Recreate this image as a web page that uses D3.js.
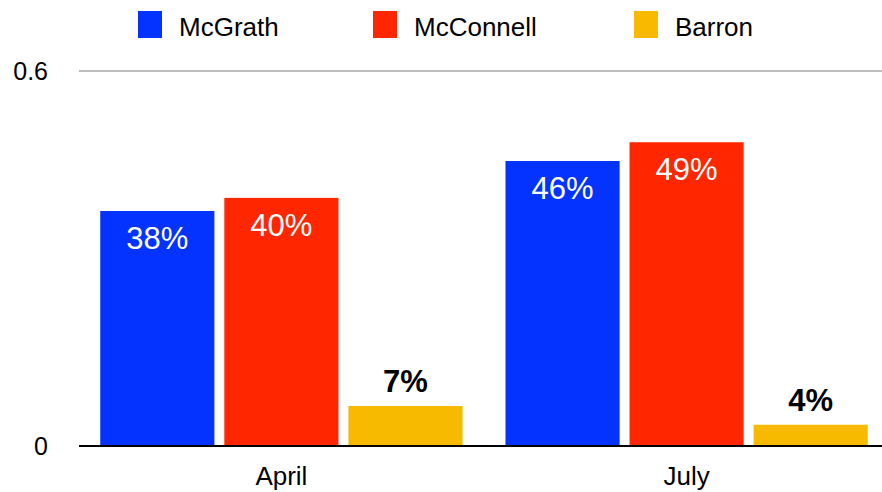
<!DOCTYPE html>
<html>
<head>
<meta charset="utf-8">
<script src="https://cdn.jsdelivr.net/npm/d3@7"></script>
<style>
  body { margin: 0; background: #fff; }
  svg text { font-family: "Liberation Sans", Arial, Helvetica, sans-serif; }
</style>
</head>
<body>
<svg id="chart" width="882" height="492"></svg>
<script>
// data
var months = ["April", "July"];
var candidates = ["McGrath", "McConnell", "Barron"];
var colors = ["#0433ff", "#ff2600", "#f8ba00"];
var mcgrath = [0.376, 0.456];
var mcconnell = [0.397, 0.486];
var barron = [0.064, 0.034];
var labelsMcgrath = ["38%", "46%"];
var labelsMcconnell = ["40%", "49%"];
var labelsBarron = ["7%", "4%"];
var yTicks = [0, 0.6];

var series = [mcgrath, mcconnell, barron];
var seriesLabels = [labelsMcgrath, labelsMcconnell, labelsBarron];

var svg = d3.select("#chart");

var x0 = d3.scaleBand().domain(months).range([80, 888]).paddingInner(0.106).paddingOuter(0.05);
var x1 = d3.scaleBand().domain(candidates).range([0, x0.bandwidth()]).paddingInner(0.08);
var y = d3.scaleLinear().domain([0, 0.6]).range([446, 71]);

// gridline at top tick
svg.append("line")
  .attr("x1", 79).attr("x2", 882)
  .attr("y1", y(0.6)).attr("y2", y(0.6))
  .attr("stroke", "#bdbdbd").attr("stroke-width", 2);

// y tick labels
svg.selectAll("text.ytick").data(yTicks).enter().append("text")
  .attr("class", "ytick")
  .attr("x", 48)
  .attr("y", function(d) { return y(d) + 9; })
  .attr("text-anchor", "end")
  .attr("font-size", 25)
  .attr("fill", "#000")
  .text(function(d) { return d === 0 ? "0" : d3.format(".1f")(d); });

// bars
var rows = [];
months.forEach(function(m, i) {
  candidates.forEach(function(c, j) {
    rows.push({ month: m, cand: c, j: j, value: series[j][i], label: seriesLabels[j][i] });
  });
});

var g = svg.append("g");
g.selectAll("rect").data(rows).enter().append("rect")
  .attr("x", function(d) { return x0(d.month) + x1(d.cand); })
  .attr("y", function(d) { return y(d.value); })
  .attr("width", x1.bandwidth())
  .attr("height", function(d) { return y(0) - y(d.value); })
  .attr("fill", function(d) { return colors[d.j]; });

// value labels: inside for big bars, above (bold) for small ones
g.selectAll("text").data(rows).enter().append("text")
  .attr("x", function(d) { return x0(d.month) + x1(d.cand) + x1.bandwidth() / 2; })
  .attr("y", function(d) { return d.j < 2 ? y(d.value) + 38 : y(d.value) - 14; })
  .attr("text-anchor", "middle")
  .attr("font-size", 31)
  .attr("font-weight", function(d) { return d.j < 2 ? "normal" : "bold"; })
  .attr("fill", function(d) { return d.j < 2 ? "#fff" : "#000"; })
  .text(function(d) { return d.label; });

// baseline
svg.append("line")
  .attr("x1", 79).attr("x2", 882)
  .attr("y1", y(0)).attr("y2", y(0))
  .attr("stroke", "#000").attr("stroke-width", 2);

// x labels
svg.selectAll("text.xlab").data(months).enter().append("text")
  .attr("class", "xlab")
  .attr("x", function(d) { return x0(d) + x0.bandwidth() / 2; })
  .attr("y", 485)
  .attr("text-anchor", "middle")
  .attr("font-size", 26)
  .attr("fill", "#000")
  .text(function(d) { return d; });

// legend
var legendX = [138, 373, 634];
var legend = svg.selectAll("g.leg").data(candidates).enter().append("g")
  .attr("class", "leg")
  .attr("transform", function(d, i) { return "translate(" + legendX[i] + ",11)"; });
legend.append("rect")
  .attr("width", 24).attr("height", 27)
  .attr("fill", function(d, i) { return colors[i]; });
legend.append("text")
  .attr("x", 41).attr("y", 25)
  .attr("font-size", 26)
  .attr("fill", "#000")
  .text(function(d) { return d; });
</script>
</body>
</html>
